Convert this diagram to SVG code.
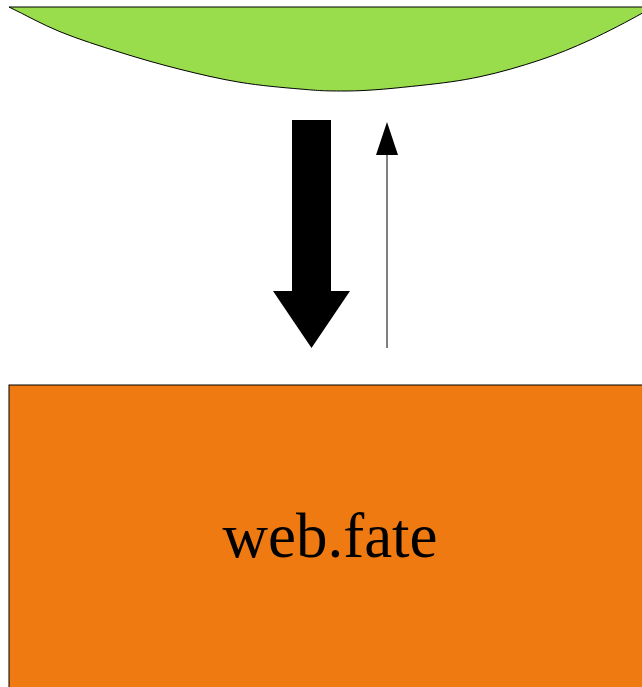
<svg xmlns="http://www.w3.org/2000/svg" width="642" height="687" viewBox="0 0 642 687">
  <style>
    .shape { stroke: #000; stroke-width: 1; }
    .label { font-family: "Liberation Serif", "Times New Roman", serif; font-size: 63px; fill: #000; text-anchor: middle; }
  </style>
  <rect x="0" y="0" width="642" height="687" fill="#fff"/>
  <g id="node-top">
    <path class="shape" fill="#99DD4C" d="M9,7 C26,15.2 41.5,24.15 60,31.7 C78.5,39.25 100,46.03 120,52.3 C140,58.57 160,64.3 180,69.3 C200,74.3 220,79.02 240,82.3 C260,85.58 282.5,87.55 300,89 C317.5,90.45 320,91 345,91 C370,91 397.5,87.88 420,85.5 C442.5,83.12 460,80.95 480,76.7 C500,72.45 521.67,66.12 540,60 C558.33,53.88 573,47.78 590,40 C607,32.22 629.5,20.3 642,13.3 C645.5,11.3 649,9 652,7 Z"/>
  </g>
  <g id="node-web-fate">
    <rect class="shape" x="9" y="385" width="700" height="400" fill="#F07A12"/>
    <text class="label" x="330" y="557">web.fate</text>
  </g>
  <g id="connectors">
    <polygon fill="#000" points="292,120 331,120 331,291 350,291 311.5,348 273,291 292,291"/>
    <line x1="387" y1="348" x2="387" y2="150" stroke="#000" stroke-width="1"/>
    <polygon fill="#000" points="387,122 376,155 398,155"/>
  </g>
</svg>
